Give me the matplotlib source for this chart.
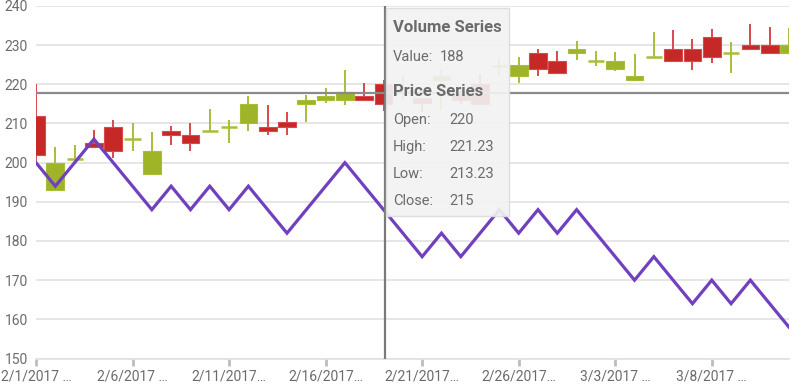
import matplotlib
matplotlib.use("Agg")
import matplotlib.pyplot as plt
import pandas as pd
from matplotlib.patches import Rectangle

plt.rcParams['font.family'] = ['Roboto', 'DejaVu Sans']

# data (one point per day)
dates = pd.date_range('2017-02-01', periods=40, freq='D')
opens = [212, 193, 201, 205, 209, 206, 197, 208, 207, 208,
         209, 210, 209.2, 210.3, 215, 216, 216, 217, 220, 218,
         216.5, 221, 218, 220, 224.6, 222, 228, 226, 228, 226,
         224, 221, 227, 229, 229, 232, 228, 230, 230, 228]
highs = [220, 204, 204.6, 208.3, 211, 210, 207.8, 209.3, 210, 213.7,
         211, 217, 214.8, 213, 217.4, 219, 223.7, 220.3, 221.23, 222.4,
         216.5, 223.7, 219, 222.7, 226.7, 227, 229, 228.4, 231, 228.6,
         228.2, 227.8, 233.3, 233.9, 231.6, 234.1, 230.8, 235.3, 234.6, 234.5]
lows = [200, 193, 199.6, 204, 201.3, 203, 197, 204.4, 203, 208,
        205, 208, 207, 207, 210.3, 215.3, 214.8, 216, 213.23, 216,
        213, 213.5, 215, 215, 222.5, 220.3, 222, 223, 226.3, 224.6,
        223.5, 221, 227, 226, 223.6, 225.4, 223, 229, 228, 228]
closes = [202, 200, 201, 204, 203, 206, 203, 207, 205, 208,
          209, 215, 208, 209, 216, 217, 218, 216, 215, 218,
          215.3, 222, 216, 215, 224.6, 225, 224, 223, 229, 226,
          226, 222, 227, 226, 226, 227, 228, 229, 228, 230]
volume = [200, 194, 200, 206, 200, 194, 188, 194, 188, 194,
          188, 194, 188, 182, 188, 194, 200, 194, 188, 182,
          176, 182, 176, 182, 188, 182, 188, 182, 188, 182,
          176, 170, 176, 170, 164, 170, 164, 170, 164, 158]

tick_dates = dates[::5]
tick_labels = ['2/1/2017 …', '2/6/2017 …', '2/11/2017…', '2/16/2017…',
               '2/21/2017…', '2/26/2017…', '3/3/2017 …', '3/8/2017 …']

# hovered point shown in the tooltip
cross_x = pd.Timestamp('2017-02-19 01:40')
cross_y = 217.8
tip_volume = 188
tip_rows = [('Open:', '220'), ('High:', '221.23'), ('Low:', '213.23'), ('Close:', '215')]

RED = '#c62828'
RED_WICK = '#d9484c'
GREEN = '#a0b428'
GREEN_WICK = '#a9bd3a'
PURPLE = '#7040bf'
TXT = '#6b6b6b'

W, H = 810, 385
fig = plt.figure(figsize=(W / 100, H / 100), dpi=100)
ax = fig.add_axes([36 / W, 1 - 358.5 / H, (789 - 36) / W, (358.5 - 6) / H])

# candles
width = 0.92
for d, o, h, l, c in zip(dates, opens, highs, lows, closes):
    up = c >= o
    col = GREEN if up else RED
    wcol = GREEN_WICK if up else RED_WICK
    ax.vlines(d, l, h, color=wcol, lw=1.4, zorder=3)
    if o == c:
        ax.hlines(o, d - pd.Timedelta(days=0.42), d + pd.Timedelta(days=0.42),
                  color=wcol, lw=1.8, zorder=3)
    else:
        ax.bar(d, abs(c - o), bottom=min(o, c), width=width, color=col,
               edgecolor=wcol, linewidth=0.8, zorder=4)

ax.plot(dates, volume, color=PURPLE, lw=2.3, zorder=5, solid_joinstyle='miter')

# crosshair
ax.axhline(cross_y, color='#8a8a8a', lw=1.6, zorder=6)
ax.axvline(cross_x, ymax=0.996, color='#7a7a7a', lw=1.6, zorder=6)

ax.set_xlim(dates[0], dates[-1])
ax.set_ylim(150, 240)
ax.set_yticks(range(150, 241, 10))
ax.set_xticks(tick_dates)
ax.set_xticklabels(tick_labels)
ax.yaxis.grid(True, color='#e4e4e4', lw=1.3, zorder=0)
ax.set_axisbelow(True)
for s in ['top', 'right', 'left']:
    ax.spines[s].set_visible(False)
ax.spines['bottom'].set_color('#e0e0e0')
ax.spines['bottom'].set_linewidth(1.2)
ax.tick_params(axis='x', length=5, width=2, color='#bdbdbd', labelsize=10,
               labelcolor=TXT, pad=3)
ax.tick_params(axis='y', length=0, labelsize=10, labelcolor=TXT, pad=6)


def px(x, y):
    return x / W, 1 - y / H


# tooltip
x0, y0 = px(386, 216)
x1, y1 = px(509, 8)
fig.patches.append(Rectangle((x0, y0), x1 - x0, y1 - y0, transform=fig.transFigure,
                             facecolor='#f2f2f2', edgecolor='#dcdcdc', lw=1,
                             alpha=0.92, zorder=10))
fig.text(*px(393, 28), 'Volume Series', fontsize=12, fontweight='bold',
         color=TXT, va='center', zorder=11)
fig.text(*px(393, 57), 'Value:', fontsize=10.5, color=TXT, va='center', zorder=11)
fig.text(*px(440, 57), str(tip_volume), fontsize=10.5, color=TXT, va='center', zorder=11)
fig.text(*px(393, 92), 'Price Series', fontsize=12, fontweight='bold',
         color=TXT, va='center', zorder=11)
for i, (k, v) in enumerate(tip_rows):
    yy = 120 + i * 27
    fig.text(*px(393, yy), k, fontsize=10.5, color=TXT, va='center', zorder=11)
    fig.text(*px(449, yy), v, fontsize=10.5, color=TXT, va='center', zorder=11)

fig.savefig('out.png', dpi=100)
